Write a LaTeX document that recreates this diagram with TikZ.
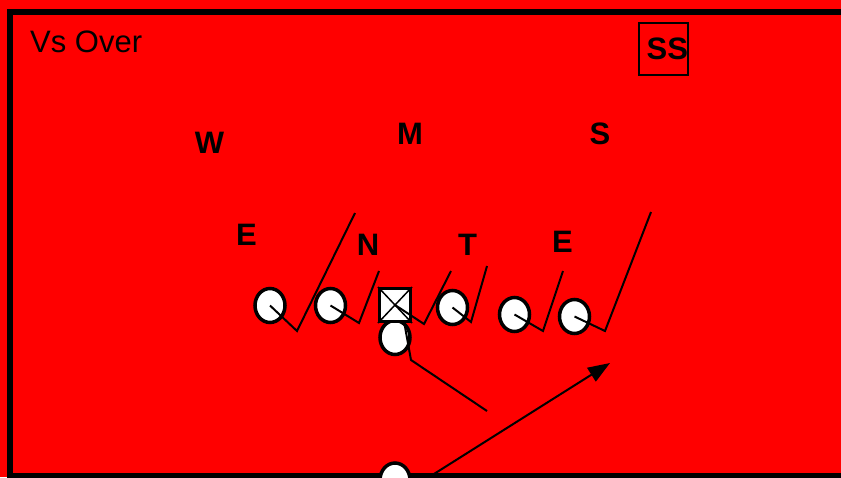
\documentclass[tikz,border=0pt]{standalone}
\usepackage{fontspec}
\setmainfont{Liberation Sans}
\usetikzlibrary{shapes.geometric, arrows.meta}

\begin{document}
\begin{tikzpicture}[
    x=1pt, y=-1pt,
    every node/.style={inner sep=0pt},
    player/.style={ellipse, draw=black, fill=white, line width=3.5pt,
                   minimum width=30pt, minimum height=34pt},
    snapper/.style={rectangle, draw=black, fill=white, line width=3pt,
                    minimum width=31pt, minimum height=33pt},
    defender/.style={font=\fontsize{31}{36}\selectfont\bfseries},
    route/.style={line width=2pt},
    >={Triangle[length=22pt,width=16pt]},
]

% ---------- Field ----------
\useasboundingbox (0,0) rectangle (841,477);
\clip (0,0) rectangle (841,477);
\fill[red] (0,0) rectangle (841,477);
\draw[line width=6pt] (10,12) rectangle (880,476);

\node[anchor=base west, font=\fontsize{31}{36}\selectfont] (title) at (30,52) {Vs Over};

\node[draw, line width=1.5pt, defender, text width=49pt, align=right,
      inner xsep=0pt, minimum height=52pt] (ss) at (663.5,49) {SS};

% ---------- Defenders ----------
\node[defender] (w)  at (209.5,143) {W};
\node[defender] (m)  at (410,134)   {M};
\node[defender] (s)  at (600,134)   {S};
\node[defender] (le) at (246.5,235) {E};
\node[defender] (n)  at (368,245)   {N};
\node[defender] (t)  at (467.5,245) {T};
\node[defender] (re) at (562.5,242) {E};

% ---------- Offense ----------
\node[player] (lt) at (270,305.5) {};
\node[player] (lg) at (330.5,305.5) {};
\node[player] (qb) at (395,337.5) {};
\node[snapper] (c) at (395,305) {};
\draw[line width=1.5pt] (c.north west) -- (c.south east)
                        (c.north east) -- (c.south west);
\node[player] (rg) at (452.5,307.5) {};
\node[player] (rt) at (514.5,314.5) {};
\node[player] (te) at (574.5,316.5) {};
\node[player] (rb) at (395,480) {};

% ---------- Routes ----------
\coordinate (lt1) at (297,331);  \coordinate (lt2) at (355,213);
\coordinate (lg1) at (359,323);  \coordinate (lg2) at (379,271);
\coordinate (c1)  at (424,324);  \coordinate (c2)  at (451,271);
\coordinate (rg1) at (471,322);  \coordinate (rg2) at (487,266);
\coordinate (rt1) at (543,331);  \coordinate (rt2) at (563,271);
\coordinate (te1) at (605,331);  \coordinate (te2) at (651,212);
\coordinate (qb1) at (411,360);  \coordinate (qb2) at (487,411);
\coordinate (rb0) at (426,479);  \coordinate (rb1) at (610,363);

\draw[route] (lt.center) -- (lt1) -- (lt2);
\draw[route] (lg.center) -- (lg1) -- (lg2);
\draw[route] (c.center)  -- (c1)  -- (c2);
\draw[route] (rg.center) -- (rg1) -- (rg2);
\draw[route] (rt.center) -- (rt1) -- (rt2);
\draw[route] (te.center) -- (te1) -- (te2);
\draw[route] (qb.60)     -- (qb1) -- (qb2);
\draw[route, ->] (rb0) -- (rb1);

\end{tikzpicture}
\end{document}
